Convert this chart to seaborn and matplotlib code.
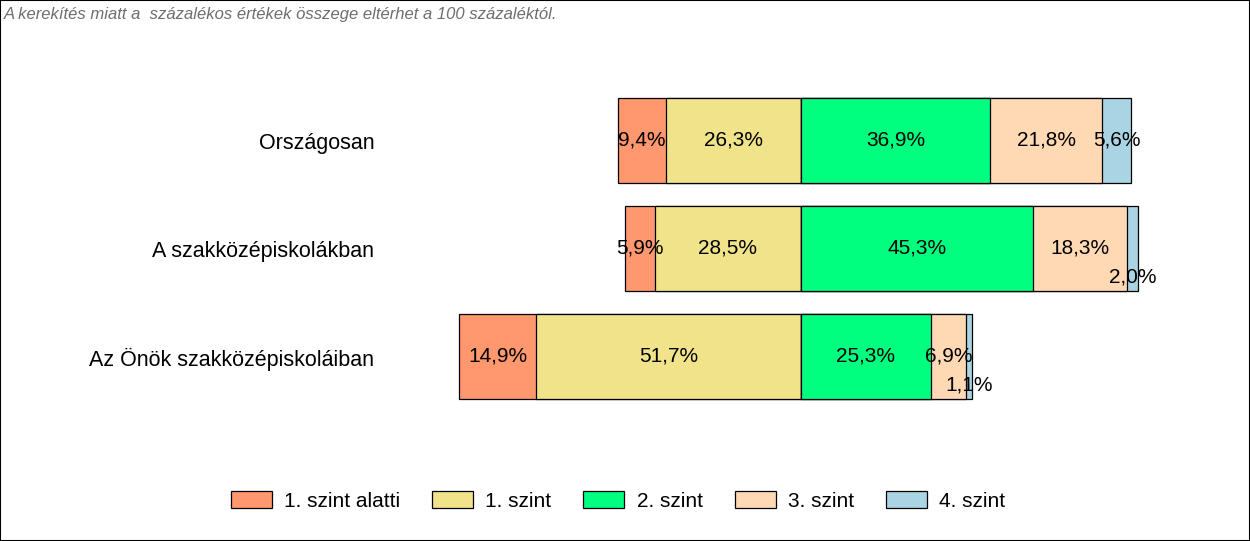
import numpy as np
import pandas as pd
import matplotlib
matplotlib.use("Agg")
import matplotlib.pyplot as plt
from matplotlib.patches import Patch, Rectangle
import seaborn as sns

categories = ["Országosan", "A szakközépiskolákban", "Az Önök szakközépiskoláiban"]
levels = ["1. szint alatti", "1. szint", "2. szint", "3. szint", "4. szint"]
below1 = [9.4, 5.9, 14.9]
level1 = [26.3, 28.5, 51.7]
level2 = [36.9, 45.3, 25.3]
level3 = [21.8, 18.3, 6.9]
level4 = [5.6, 2.0, 1.1]
note = "A kerekítés miatt a  százalékos értékek összege eltérhet a 100 százaléktól."

colors = ["#FF986E", "#F0E38A", "#00FF7F", "#FFD8B4", "#A9D4E4"]

sns.set_theme(style="white")
plt.rcParams["font.family"] = ["Liberation Sans", "DejaVu Sans"]
plt.rcParams["text.color"] = "black"

fig = plt.figure(figsize=(12.5, 5.41), dpi=100)
W, H = 1250, 541
ax_left_px, ax_right_px = 420, 1200
ax_top_px, ax_bot_px = 86.5, 410.5
ax = fig.add_axes([ax_left_px / W, 1 - ax_bot_px / H,
                   (ax_right_px - ax_left_px) / W, (ax_bot_px - ax_top_px) / H])

df = pd.DataFrame({"cat": categories, "b1": below1, "l1": level1,
                   "l2": level2, "l3": level3, "l4": level4})
# cumulative extents for stacked drawing
df["left_outer"] = -(df["b1"] + df["l1"])
df["left_inner"] = -df["l1"]
df["r3"] = df["l2"] + df["l3"] + df["l4"]
df["r2"] = df["l2"] + df["l3"]
df["r1"] = df["l2"]

bw = 0.79
kw = dict(y="cat", orient="h", width=bw, edgecolor="black", linewidth=0.9,
          ax=ax, order=categories, saturation=1)
sns.barplot(data=df, x="left_outer", color=colors[0], **kw)
sns.barplot(data=df, x="left_inner", color=colors[1], **kw)
sns.barplot(data=df, x="r3", color=colors[4], **kw)
sns.barplot(data=df, x="r2", color=colors[3], **kw)
sns.barplot(data=df, x="r1", color=colors[2], **kw)

scale = 5.13  # px per percent
ax.set_xlim(-(801 - ax_left_px) / scale, (ax_right_px - 801) / scale)
ax.set_ylim(2.5, -0.5)

def fmt(v):
    return f"{v:.1f}%".replace(".", ",")

for i in range(len(categories)):
    b, a, c2, c3, c4 = below1[i], level1[i], level2[i], level3[i], level4[i]
    segs = [(-(a + b), -a, b), (-a, 0, a), (0, c2, c2), (c2, c2 + c3, c3),
            (c2 + c3, c2 + c3 + c4, c4)]
    for (x0, x1, v) in segs:
        yy = i + (0.26 if v < 3 else 0)
        ax.text((x0 + x1) / 2, yy, fmt(v), ha="center", va="center",
                fontsize=15, color="black")

ax.set_xlabel("")
ax.set_ylabel("")
ax.set_xticks([])
ax.tick_params(axis="y", length=0, pad=33, labelsize=15.5, labelcolor="black")
for s in ax.spines.values():
    s.set_visible(False)

handles = [Patch(facecolor=c, edgecolor="black", linewidth=0.9) for c in colors]
leg = fig.legend(handles, levels, loc="center", bbox_to_anchor=(618 / W, 1 - 501 / H),
                 ncol=5, frameon=False, fontsize=15, handlelength=1.97,
                 handleheight=0.82, handletextpad=0.58, columnspacing=1.54)
for t in leg.get_texts():
    t.set_color("black")

fig.text(4 / W, 1 - 14 / H, note, fontsize=12, style="italic", color="#6E6E6E",
         ha="left", va="center")

fig.patches.append(Rectangle((0, 0), 1, 1, transform=fig.transFigure,
                             fill=False, edgecolor="black", linewidth=1.5))

fig.savefig("out.png", dpi=100)
